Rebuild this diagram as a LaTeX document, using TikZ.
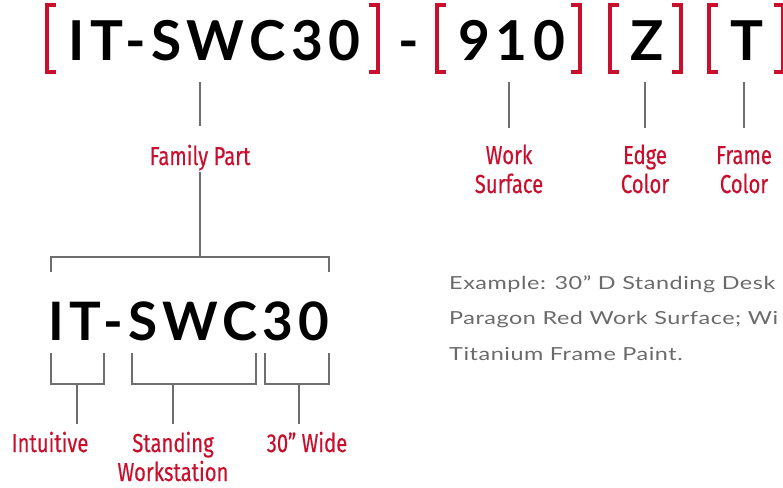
\documentclass[tikz,border=0pt]{standalone}
\usepackage{fontspec}
\setmainfont{Lato}
\newfontfamily\codefont[LetterSpace=10]{Lato Bold}
\newfontfamily\labfont[FakeStretch=0.78,FakeBold=0.4]{Fira Sans}
\newfontfamily\exfont[FakeStretch=1.3,LetterSpace=3]{Lato}
\definecolor{brand}{HTML}{C8102E}
\definecolor{linegray}{HTML}{6E6E6E}
\definecolor{textgray}{HTML}{6A6A6A}
\tikzset{
  code/.style={inner sep=0pt, anchor=base west, font=\codefont\fontsize{55}{55}\selectfont, text=black},
  lab/.style={inner sep=0pt, anchor=base, align=center, text=brand, font=\labfont\fontsize{26}{29}\selectfont},
  conn/.style={draw=linegray, line width=1.6pt},
  brk/.style={draw=brand, line width=3.6pt},
  extext/.style={inner sep=0pt, anchor=base west, align=left, text=textgray, font=\exfont\fontsize{18}{35.5}\selectfont}
}
\begin{document}
\begin{tikzpicture}[x=1pt,y=-1pt]
\useasboundingbox (0,0) rectangle (783,487);
% top code
\node[code] (c1) at (68,60) {IT-SWC30};
\node[code] (dash) at (398,60) {-};
\node[code] (c2) at (458,60) {910};
\node[code] (c3) at (630,60) {Z};
\node[code] (c4) at (730,60) {T};
% brackets
\draw[brk] (56,5) -- (47,5) -- (47,72) -- (56,72);
\draw[brk] (369,5) -- (378,5) -- (378,72) -- (369,72);
\draw[brk] (446,5) -- (437,5) -- (437,72) -- (446,72);
\draw[brk] (571,5) -- (580,5) -- (580,72) -- (571,72);
\draw[brk] (619,5) -- (610,5) -- (610,72) -- (619,72);
\draw[brk] (672,5) -- (681,5) -- (681,72) -- (672,72);
\draw[brk] (718,5) -- (709,5) -- (709,72) -- (718,72);
\draw[brk] (774,5) -- (783,5) -- (783,72) -- (774,72);
% labels top
\node[lab] (fam) at (200,165) {Family Part};
\node[lab] (work) at (509,193) {Work\\Surface};
\node[lab] (edge) at (645,193) {Edge\\Color};
\node[lab] (frame) at (744,193) {Frame\\Color};
\coordinate (t1) at (200,82); \coordinate (t1b) at (200,126);
\coordinate (t2) at (509,82); \coordinate (t2b) at (509,128);
\coordinate (t3) at (645,82); \coordinate (t3b) at (645,128);
\coordinate (t4) at (744,82); \coordinate (t4b) at (744,128);
\draw[conn] (t1) -- (t1b);
\draw[conn] (t2) -- (t2b);
\draw[conn] (t3) -- (t3b);
\draw[conn] (t4) -- (t4b);
% family bracket
\coordinate (f1) at (200,172);
\coordinate (f2) at (200,257);
\draw[conn] (f1) -- (f2);
\draw[conn] (51,272) -- (51,257) -- (329,257) -- (329,272);
% bottom code
\node[code, font=\codefont\fontsize{53}{53}\selectfont] (b1) at (48,340) {IT-SWC30};
% bottom brackets
\draw[conn] (51,353) -- (51,384) -- (104,384) -- (104,353);
\draw[conn] (132,353) -- (132,384) -- (256,384) -- (256,353);
\draw[conn] (265,353) -- (265,384) -- (329,384) -- (329,353);
\node[lab] (intu) at (50,452) {Intuitive};
\node[lab] (stand) at (173,481) {Standing\\Workstation};
\node[lab] (wide) at (307,452) {30\textquotedblright\ Wide};
\coordinate (s1) at (77,384); \coordinate (s1b) at (77,424);
\coordinate (s2) at (173,384); \coordinate (s2b) at (173,424);
\coordinate (s3) at (299,384); \coordinate (s3b) at (299,424);
\draw[conn] (s1) -- (s1b);
\draw[conn] (s2) -- (s2b);
\draw[conn] (s3) -- (s3b);
% example
\node[extext] (ex) at (449,360) {Example: 30\textquotedblright\ D Standing Desk\\Paragon Red Work Surface; Wi\\Titanium Frame Paint.};
\end{tikzpicture}
\end{document}
